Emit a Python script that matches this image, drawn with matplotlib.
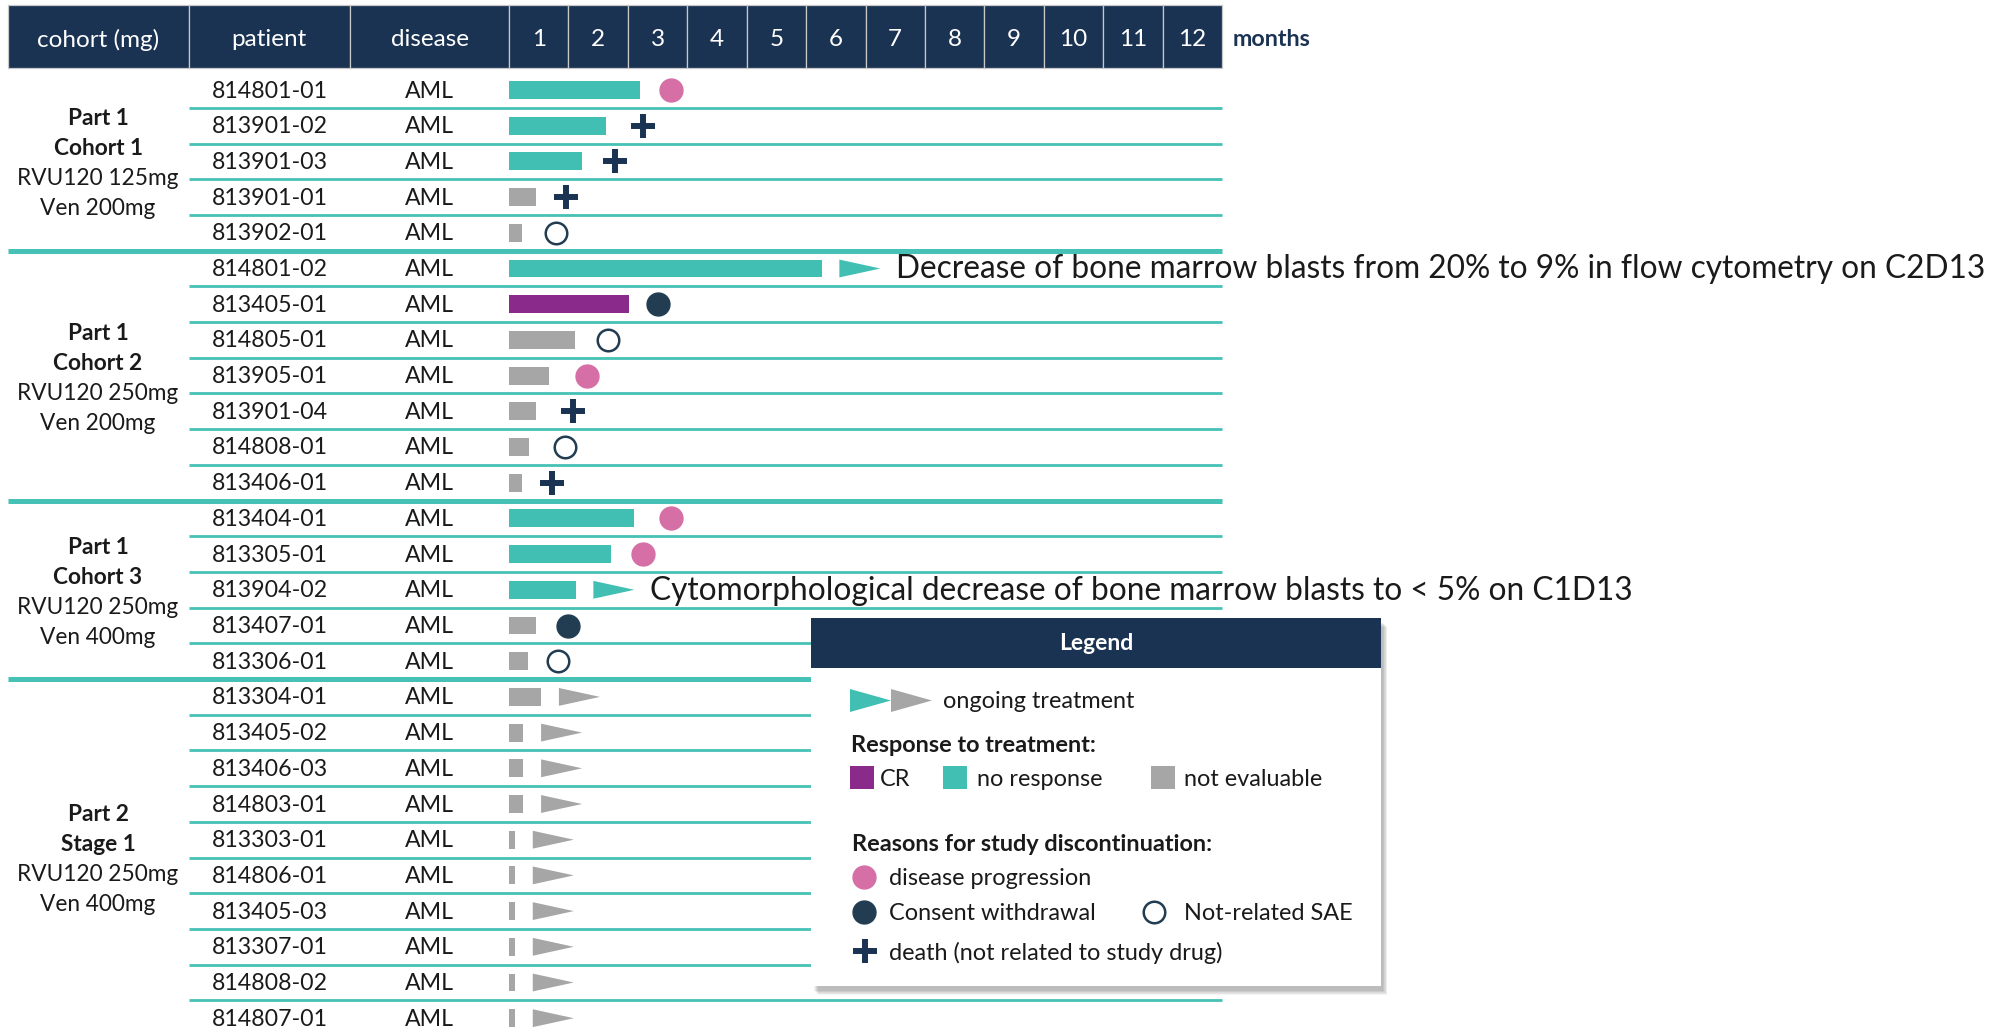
import matplotlib
matplotlib.use("Agg")
import matplotlib.pyplot as plt
from matplotlib.patches import Rectangle, Polygon
import numpy as np

plt.rcParams['font.family'] = ['Lato', 'DejaVu Sans']

# ---------------- data ----------------
group_titles = ["Part 1\nCohort 1", "Part 1\nCohort 2", "Part 1\nCohort 3", "Part 2\nStage 1"]
group_doses = ["RVU120 125mg\nVen 200mg", "RVU120 250mg\nVen 200mg",
               "RVU120 250mg\nVen 400mg", "RVU120 250mg\nVen 400mg"]
group_sizes = [5, 7, 5, 10]

patients = ["814801-01", "813901-02", "813901-03", "813901-01", "813902-01",
            "814801-02", "813405-01", "814805-01", "813905-01", "813901-04", "814808-01", "813406-01",
            "813404-01", "813305-01", "813904-02", "813407-01", "813306-01",
            "813304-01", "813405-02", "813406-03", "814803-01", "813303-01", "814806-01",
            "813405-03", "813307-01", "814808-02", "814807-01"]
diseases = ["AML"] * 27
months = list(range(1, 13))

# treatment duration (months)
durations = [2.20, 1.64, 1.23, 0.45, 0.22,
             5.26, 2.02, 1.11, 0.67, 0.45, 0.34, 0.22,
             2.10, 1.71, 1.12, 0.45, 0.32,
             0.54, 0.24, 0.24, 0.24, 0.10, 0.10, 0.10, 0.10, 0.10, 0.10]
# response: CR, NR (no response), NE (not evaluable)
responses = ["NR", "NR", "NR", "NE", "NE",
             "NR", "CR", "NE", "NE", "NE", "NE", "NE",
             "NR", "NR", "NR", "NE", "NE",
             "NE", "NE", "NE", "NE", "NE", "NE", "NE", "NE", "NE", "NE"]
# reason for discontinuation: PD, CW, SAE, death, ongoing
events = ["PD", "death", "death", "death", "SAE",
          "ongoing", "CW", "SAE", "PD", "death", "SAE", "death",
          "PD", "PD", "ongoing", "CW", "SAE",
          "ongoing", "ongoing", "ongoing", "ongoing", "ongoing", "ongoing",
          "ongoing", "ongoing", "ongoing", "ongoing"]
event_months = [2.72, 2.25, 1.78, 0.96, 0.79,
                np.nan, 2.50, 1.67, 1.32, 1.08, 0.94, 0.72,
                2.72, 2.25, np.nan, 1.00, 0.83,
                np.nan, np.nan, np.nan, np.nan, np.nan, np.nan, np.nan, np.nan, np.nan, np.nan]
note_rows = [5, 14]
note_texts = ["Decrease of bone marrow blasts from 20% to 9% in flow cytometry on C2D13",
              "Cytomorphological decrease of bone marrow blasts to < 5% on C1D13"]

# ---------------- style ----------------
NAVY = '#1B3352'
TEAL = '#41BFB3'
LINE = '#46C1B5'
PURPLE = '#8A2B8C'
GRAY = '#A6A6A6'
PINK = '#D56FA6'
DARK = '#223D52'
TXT = '#1A1A1A'
resp_color = {"CR": PURPLE, "NR": TEAL, "NE": GRAY}

W, H = 2011, 1031
X0, MW = 509.0, 59.42     # pixel of month 0 and pixel width of one month
Y0, RH = 90.0, 35.7       # pixel centre of first row and row height
DY = 2.0 / RH             # small vertical text nudge


def mx(px):
    return (px - X0) / MW


def ry(py):
    return (py - Y0) / RH


fig = plt.figure(figsize=(W / 100, H / 100), dpi=100)
ax = fig.add_axes([0, 0, 1, 1])
ax.set_xlim(mx(0), mx(W))
ax.set_ylim(ry(H), ry(0))
ax.axis('off')

n = len(patients)
rows = np.arange(n)

# ---------------- header ----------------
hdr_top, hdr_bot = ry(5), ry(68)
hdr_y = ry(40)
col_edges = [(7.7, 188.5, "cohort (mg)"), (188.5, 350, "patient"), (350, 509, "disease")]
for l, r, lab in col_edges:
    ax.add_patch(Rectangle((mx(l), hdr_top), mx(r) - mx(l), hdr_bot - hdr_top,
                           facecolor=NAVY, edgecolor='#C8C8C8', lw=0.9, zorder=2))
    ax.text((mx(l) + mx(r)) / 2, hdr_y, lab, color='white', fontsize=17.5,
            ha='center', va='center', zorder=3)
for m in months:
    ax.add_patch(Rectangle((m - 1, hdr_top), 1, hdr_bot - hdr_top,
                           facecolor=NAVY, edgecolor='#C8C8C8', lw=0.9, zorder=2))
    ax.text(m - 0.5, hdr_y, str(m), color='white', fontsize=17.5,
            ha='center', va='center', zorder=3)
ax.text(mx(1233), hdr_y, "months", color=NAVY, fontsize=16.8, fontweight='bold',
        ha='left', va='center')

# ---------------- row separators ----------------
bounds = np.cumsum(group_sizes)
group_ends = set((bounds[:-1] - 1).tolist())
for i in range(n - 1):
    if i in group_ends:
        ax.hlines(i + 0.5, mx(7.7), 12, color=LINE, lw=3.6, zorder=1)
    else:
        ax.hlines(i + 0.5, mx(188.5), 12, color=LINE, lw=2.0, zorder=1)

# ---------------- table text ----------------
for i in range(n):
    ax.text(mx(269.5), i + DY * 0.5, patients[i], fontsize=16.7, color=TXT, ha='center', va='center')
    ax.text(mx(429.5), i + DY * 0.5, diseases[i], fontsize=16.7, color=TXT, ha='center', va='center')

start = 0
for title, dose, size in zip(group_titles, group_doses, group_sizes):
    c = start + (size - 1) / 2 + DY * 1.2
    lines = title.split("\n") + dose.split("\n")
    step = 30 / RH
    for k, line in enumerate(lines):
        ax.text(mx(98), c + (k - 1.5) * step, line, fontsize=16.3, color=TXT,
                fontweight='bold' if k < 2 else 'normal', ha='center', va='center')
    start += size

# ---------------- bars ----------------
ax.barh(rows, durations, left=0, height=0.5,
        color=[resp_color[r] for r in responses], zorder=3)

# ---------------- markers ----------------
ev = np.array(events)
em = np.array(event_months)
sel = ev == "PD"
ax.plot(em[sel], rows[sel], 'o', ms=16.5, color=PINK, mec=PINK, zorder=4)
sel = ev == "CW"
ax.plot(em[sel], rows[sel], 'o', ms=16.5, color=DARK, mec=DARK, zorder=4)
sel = ev == "SAE"
ax.plot(em[sel], rows[sel], 'o', ms=15.5, mfc='white', mec=DARK, mew=1.8, zorder=4)
sel = ev == "death"
ax.plot(em[sel], rows[sel], '+', ms=17, mec=NAVY, mew=4.3, zorder=4)

TRI_GAP, TRI_W, TRI_H = 0.30, 0.69, 0.25
for i in rows[ev == "ongoing"]:
    s = durations[i] + TRI_GAP
    ax.add_patch(Polygon([(s, i - TRI_H), (s, i + TRI_H), (s + TRI_W, i)], closed=True,
                         facecolor=resp_color[responses[i]], edgecolor='none', zorder=4))

for r, t in zip(note_rows, note_texts):
    x = durations[r] + TRI_GAP + TRI_W + 0.27
    ax.text(x, r + DY * 0.5, t, fontsize=22.8, color=TXT, ha='left', va='center', zorder=5)

# ---------------- legend box ----------------
lax = fig.add_axes([800 / W, 1 - 1000 / H, 600 / W, 395 / H])
lax.set_xlim(800, 1400)
lax.set_ylim(1000, 605)
lax.axis('off')
lax.set_zorder(10)
L, R, T, B = 811.5, 1380.5, 618, 986
for k in range(1, 9):
    lax.add_patch(Rectangle((L + 2 + k * 0.6, T + 4 + k * 0.6), R - L, B - T,
                            facecolor='#000000', alpha=0.035, edgecolor='none', zorder=1))
lax.add_patch(Rectangle((L, T), R - L, B - T, facecolor='white', edgecolor='none', zorder=2))
lax.add_patch(Rectangle((L, T), R - L, 50, facecolor=NAVY, edgecolor='none', zorder=3))
lax.text((L + R) / 2, 644, "Legend", color='white', fontsize=16.5, fontweight='bold',
         ha='center', va='center', zorder=4)

FS = 16.9
lax.add_patch(Polygon([(850, 689), (850, 712), (891, 700.5)], facecolor=TEAL, edgecolor='none', zorder=4))
lax.add_patch(Polygon([(891, 689), (891, 712), (932, 700.5)], facecolor=GRAY, edgecolor='none', zorder=4))
lax.text(943.5, 701.5, "ongoing treatment", fontsize=FS, color=TXT, va='center', zorder=4)

lax.text(851.5, 745.5, "Response to treatment:", fontsize=FS, fontweight='bold', color=TXT,
         va='center', zorder=4)
for x, c, lab, tx in [(850, PURPLE, "CR", 880), (943, TEAL, "no response", 977),
                      (1151, GRAY, "not evaluable", 1184)]:
    lax.add_patch(Rectangle((x, 766), 24, 23, facecolor=c, edgecolor='none', zorder=4))
    lax.text(tx, 780, lab, fontsize=FS, color=TXT, va='center', zorder=4)

lax.text(852, 844.5, "Reasons for study discontinuation:", fontsize=FS, fontweight='bold',
         color=TXT, va='center', zorder=4)
lax.plot([864], [877], 'o', ms=16.5, color=PINK, zorder=5)
lax.text(889, 878.5, "disease progression", fontsize=FS, color=TXT, va='center', zorder=4)
lax.plot([864], [912], 'o', ms=16.5, color=DARK, zorder=5)
lax.text(889, 913.5, "Consent withdrawal", fontsize=FS, color=TXT, va='center', zorder=4)
lax.plot([1154], [912], 'o', ms=15.5, mfc='white', mec=DARK, mew=1.8, zorder=5)
lax.text(1184, 913.5, "Not-related SAE", fontsize=FS, color=TXT, va='center', zorder=4)
lax.plot([865], [951], '+', ms=17, mec=NAVY, mew=4.3, zorder=5)
lax.text(889, 952.5, "death (not related to study drug)", fontsize=FS, color=TXT, va='center', zorder=4)

fig.savefig("out.png", dpi=100, facecolor='white')
